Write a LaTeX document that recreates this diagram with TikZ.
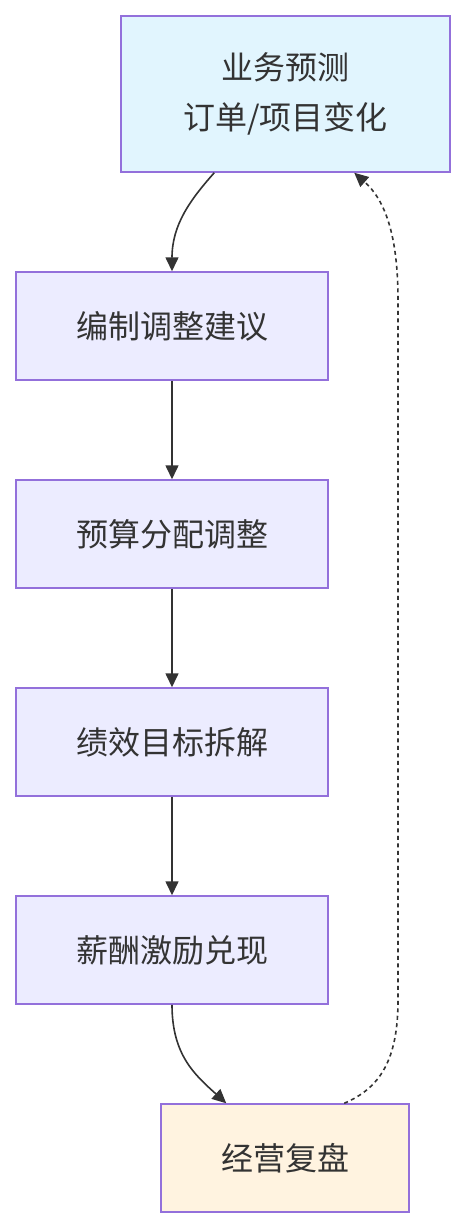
\documentclass[tikz,border=0pt]{standalone}
\usepackage{fontspec}
\setmainfont{Noto Sans CJK SC}
\usetikzlibrary{arrows.meta}
\definecolor{edgeline}{HTML}{333333}
\definecolor{boxborder}{HTML}{9370DB}
\definecolor{forecastfill}{HTML}{E1F5FE}
\definecolor{stepfill}{HTML}{ECECFF}
\definecolor{reviewfill}{HTML}{FFF3E0}
\tikzset{
  flowbox/.style={draw=boxborder, line width=1.5pt, fill=stepfill, text=edgeline,
    minimum width=312pt, minimum height=108pt, inner sep=0pt, align=center,
    font=\fontsize{32}{50}\selectfont},
  flowarrow/.style={draw=edgeline, line width=1.6pt, -{Triangle[length=14pt,width=13pt]}},
}
\begin{document}
\begin{tikzpicture}[x=1pt, y=-1pt]
  \useasboundingbox (0,0) rectangle (465,1228);
  % boxes
  \node[flowbox, fill=forecastfill, minimum width=329pt, minimum height=156pt] (forecast) at (285.5,94) {业务预测\\订单/项目变化};
  \node[flowbox] (proposal) at (172,326) {编制调整建议};
  \node[flowbox] (budget) at (172,534) {预算分配调整};
  \node[flowbox] (target) at (172,742) {绩效目标拆解};
  \node[flowbox] (reward) at (172,950) {薪酬激励兑现};
  \node[flowbox, fill=reviewfill, minimum width=248pt] (review) at (285,1158) {经营复盘};
  % arrows
  \draw[flowarrow] ([xshift=94pt]forecast.south west) .. controls (190,200) and (172,225) .. (proposal.north);
  \draw[flowarrow] (proposal) -- (budget);
  \draw[flowarrow] (budget) -- (target);
  \draw[flowarrow] (target) -- (reward);
  \draw[flowarrow] (reward.south) .. controls (172,1055) and (195,1075) .. ([xshift=66pt]review.north west);
  \draw[flowarrow, dash pattern=on 4pt off 3.5pt] ([xshift=184pt]review.north west) .. controls (380,1088) and (398,1060) .. (398,1000)
    -- (398,300) .. controls (398,235) and (385,200) .. ([xshift=234pt]forecast.south west);
\end{tikzpicture}
\end{document}
